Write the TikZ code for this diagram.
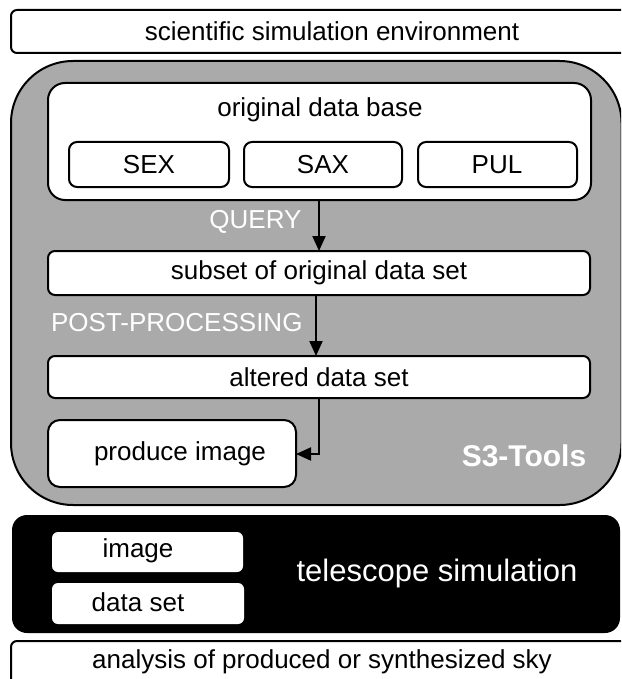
\documentclass[tikz,border=0pt]{standalone}
\usepackage{fontspec}
\setmainfont{Liberation Sans}
\usetikzlibrary{arrows.meta}
\definecolor{panelgray}{HTML}{AAAAAA}
\tikzset{
  wbox/.style={draw=black, fill=white, line width=2pt, rounded corners=#1},
  wbox/.default=6pt,
  lbl/.style={font=\fontsize{26}{30}\selectfont, text=black},
  wlbl/.style={font=\fontsize{26}{30}\selectfont, text=white},
  flow/.style={line width=2pt, -{Triangle[length=15pt,width=13pt]}},
}
\begin{document}
\begin{tikzpicture}[x=1pt,y=-1pt]
\useasboundingbox (0,0) rectangle (621,679);
\clip (0,0) rectangle (621,679);
% top
\draw[wbox=6pt] (11,10) rectangle (630,53);
\node[lbl] (env) at (332,31) {scientific simulation environment};
% grey panel
\draw[line width=2pt, fill=panelgray, rounded corners=62pt] (11,61) rectangle (621.5,505);
\draw[wbox=17pt] (48,83) rectangle (591,200);
\node[lbl] (odb) at (320,110) {original data base};
\draw[wbox=8pt] (69,142) rectangle (229,187);
\node[lbl] (sex) at (149,165) {SEX};
\draw[wbox=8pt] (244,142) rectangle (402,187);
\node[lbl] (sax) at (323,165) {SAX};
\draw[wbox=8pt] (418,142) rectangle (577,187);
\node[lbl] (pul) at (497,165) {PUL};
\coordinate (odbB) at (319,200);
\draw[wbox=7pt] (48,251) rectangle (590,295);
\node[lbl] (sub) at (319,273) {subset of original data set};
\coordinate (subT) at (319,251);
\coordinate (subB) at (316,295);
\draw[wbox=7pt] (48,356) rectangle (590,398);
\node[lbl] (alt) at (319,377) {altered data set};
\coordinate (altT) at (316,356);
\coordinate (altB) at (319,398);
\draw[wbox=12pt] (48,420) rectangle (296,487);
\node[lbl] (prod) at (180,454) {produce image};
\coordinate (prodR) at (296,454);
\node[wlbl, anchor=east] (query) at (305,222) {QUERY};
\node[wlbl, anchor=east] (post) at (306,323) {POST-PROCESSING};
\node[font=\fontsize{30}{34}\selectfont\bfseries, text=white] (s3) at (524,456) {S3-Tools};
\draw[flow] (odbB) -- (subT);
\draw[flow] (subB) -- (altT);
\draw[flow] (altB) |- (prodR);
% telescope panel
\fill[black, rounded corners=15pt] (12,515) rectangle (620,633);
\fill[white, rounded corners=6pt] (52,532) rectangle (243,572);
\node[lbl] (img) at (138,551) {image};
\fill[white, rounded corners=6pt] (52,583) rectangle (244,624);
\node[lbl] (ds) at (138,602) {data set};
\node[font=\fontsize{31}{35}\selectfont, text=white] (tel) at (437,573) {telescope simulation};
% bottom
\draw[wbox=6pt] (11,641) rectangle (630,700);
\node[lbl] (ana) at (322,662) {analysis of produced or synthesized sky};
\end{tikzpicture}
\end{document}
